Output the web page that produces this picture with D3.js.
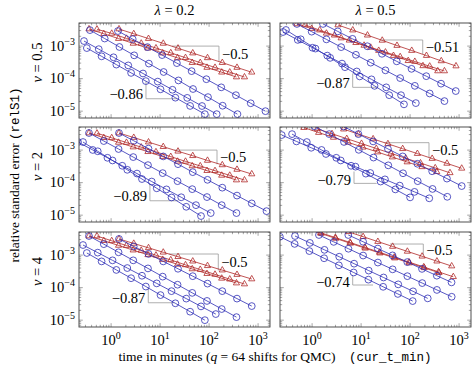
<!DOCTYPE html>
<html><head><meta charset="utf-8">
<script src="https://cdn.jsdelivr.net/npm/d3@7/dist/d3.min.js"></script>
<style>body{margin:0;background:#fff}</style>
</head><body>
<svg id="c" width="475" height="372"></svg>
<script>
// ---------------- data ----------------
const colTitles = ["0.2", "0.5"];          // lambda
const rowTitles = ["0.5", "2", "4"];       // nu
const xTickVals = [1, 10, 100, 1000];
const xTickExp  = ["0", "1", "2", "3"];
const yTickVals = [1e-5, 1e-4, 1e-3];
const yTickExp  = ["\u22125", "\u22124", "\u22123"];

// panel (row 1, col 1): nu=0.5, lambda=0.2
const p11_mc1 = [[1.45,3.35e-3],[2.9,2.39e-3],[5.8,1.70e-3],[11.6,1.21e-3],[23.2,8.6e-4],[46.4,6.1e-4],[92.8,4.35e-4],[186,3.1e-4],[371,2.2e-4],[742,1.57e-4]];
const p11_mc2 = [[0.354,3.35e-3],[0.71,2.39e-3],[1.42,1.70e-3],[2.83,1.21e-3],[5.66,8.6e-4],[11.3,6.1e-4],[22.7,4.35e-4],[45.3,3.1e-4],[90.6,2.2e-4],[181,1.57e-4],[362,1.12e-4]];
const p11_mc3 = [[0.515,3.3e-3],[1.03,2.45e-3],[2.06,1.72e-3],[4.12,1.22e-3],[8.24,8.7e-4],[16.5,6.2e-4],[33,4.4e-4],[66,3.1e-4],[132,2.2e-4],[264,1.58e-4],[527,1.12e-4]];
const p11_qmc1 = [[1.38,2.9e-3],[2.76,1.64e-3],[5.52,9.3e-4],[11,5.3e-4],[22,3.0e-4],[44,1.7e-4],[88,9.6e-5],[177,5.4e-5],[353,3.1e-5],[707,1.75e-5],[1413,1.0e-5]];
const p11_qmc2 = [[0.37,3.1e-3],[0.74,1.71e-3],[1.48,9.4e-4],[2.96,5.2e-4],[5.9,2.9e-4],[11.8,1.6e-4],[23.7,8.8e-5],[47,4.8e-5],[95,2.7e-5],[189,1.47e-5],[379,8.1e-6]];
const p11_qmc3 = [[0.28,1.43e-3],[0.56,8.05e-4],[1.12,4.53e-4],[2.24,2.55e-4],[4.48,1.44e-4],[8.96,8.1e-5],[17.9,4.55e-5],[35.8,2.56e-5],[71.7,1.44e-5],[143,8.1e-6]];
const p11_qmc4 = [[0.32,8.7e-4],[0.64,4.85e-4],[1.28,2.7e-4],[2.56,1.5e-4],[5.12,8.4e-5],[10.2,4.7e-5],[20.5,2.6e-5],[41,1.45e-5],[82,8.1e-6]];
const p11_slopeMC  = [17.5, 159, 1.0e-3, -0.5];   // x1, x2, y at x1, slope
const p11_slopeQMC = [5.15, 22, 8.4e-5, -0.86];

// panel (row 1, col 2): nu=0.5, lambda=0.5
const p12_mc1 = [[3.38,4.45e-3],[6.76,3.1e-3],[13.5,2.16e-3],[27,1.5e-3],[54,1.04e-3],[108,7.3e-4],[216,5.1e-4],[433,3.5e-4],[865,2.44e-4]];
const p12_mc2 = [[0.49,4.8e-3],[0.98,3.44e-3],[1.96,2.47e-3],[3.92,1.77e-3],[7.84,1.27e-3],[15.7,9.1e-4],[31.4,6.5e-4],[62.7,4.7e-4],[125,3.35e-4],[251,2.4e-4],[502,1.72e-4]];
const p12_mc3 = [[0.716,4.45e-3],[1.43,3.1e-3],[2.86,2.16e-3],[5.73,1.51e-3],[11.5,1.05e-3],[22.9,7.3e-4],[45.8,5.1e-4],[91.6,3.55e-4],[183,2.47e-4],[367,1.72e-4]];
const p12_qmc1 = [[1.67,4.8e-3],[3.34,2.83e-3],[6.68,1.67e-3],[13.4,9.9e-4],[26.7,5.8e-4],[53.4,3.4e-4],[107,2.0e-4],[214,1.19e-4],[428,7.0e-5],[855,4.15e-5]];
const p12_qmc2 = [[0.49,4.8e-3],[0.98,2.78e-3],[1.96,1.61e-3],[3.92,9.3e-4],[7.84,5.4e-4],[15.7,3.1e-4],[31.4,1.8e-4],[62.7,1.04e-4],[125,6.0e-5],[251,3.5e-5],[502,2.04e-5]];
const p12_qmc3 = [[0.255,2.71e-3],[0.51,1.55e-3],[1.02,8.9e-4],[2.04,5.1e-4],[4.08,2.9e-4],[8.16,1.66e-4],[16.3,9.5e-5],[32.6,5.4e-5],[65.3,3.1e-5],[131,1.77e-5]];
const p12_qmc4 = [[0.293,3.13e-3],[0.586,1.62e-3],[1.17,8.4e-4],[2.34,4.35e-4],[4.69,2.25e-4],[9.38,1.17e-4],[18.8,6.0e-5],[37.5,3.1e-5],[75,1.62e-5]];
const p12_slopeMC  = [26, 181, 1.54e-3, -0.51];
const p12_slopeQMC = [6.74, 20.8, 1.44e-4, -0.87];

// panel (row 2, col 1): nu=2, lambda=0.2
const p21_mc1 = [[1.45,3.35e-3],[2.9,2.43e-3],[5.8,1.76e-3],[11.6,1.27e-3],[23.2,9.2e-4],[46.4,6.7e-4],[92.8,4.8e-4],[186,3.5e-4],[371,2.54e-4],[742,1.84e-4]];
const p21_mc2 = [[0.354,3.35e-3],[0.71,2.4e-3],[1.42,1.72e-3],[2.83,1.24e-3],[5.66,8.9e-4],[11.3,6.3e-4],[22.7,4.5e-4],[45.3,3.25e-4],[90.6,2.33e-4],[181,1.67e-4],[362,1.2e-4]];
const p21_mc3 = [[0.515,3.3e-3],[1.03,2.38e-3],[2.06,1.71e-3],[4.12,1.23e-3],[8.24,8.8e-4],[16.5,6.3e-4],[33,4.5e-4],[66,3.25e-4],[132,2.32e-4],[264,1.67e-4],[527,1.2e-4]];
const p21_qmc1 = [[1.45,3.35e-3],[2.9,1.93e-3],[5.8,1.11e-3],[11.6,6.4e-4],[23.2,3.7e-4],[46.4,2.1e-4],[92.8,1.22e-4],[186,7.0e-5],[371,4.0e-5],[742,2.3e-5],[1485,1.33e-5]];
const p21_qmc2 = [[0.354,3.35e-3],[0.71,1.9e-3],[1.42,1.08e-3],[2.83,6.1e-4],[5.66,3.45e-4],[11.3,1.96e-4],[22.7,1.11e-4],[45.3,6.3e-5],[90.6,3.6e-5],[181,2.03e-5],[362,1.16e-5]];
const p21_qmc3 = [[0.211,1.77e-3],[0.422,1.01e-3],[0.844,5.8e-4],[1.69,3.3e-4],[3.38,1.9e-4],[6.75,1.08e-4],[13.5,6.2e-5],[27,3.55e-5],[54,2.03e-5],[108,1.16e-5]];
const p21_qmc4 = [[0.267,1.77e-3],[0.534,9.2e-4],[1.07,4.8e-4],[2.14,2.48e-4],[4.27,1.29e-4],[8.54,6.7e-5],[17.1,3.5e-5],[34.2,1.81e-5],[68.4,9.4e-6]];
const p21_slopeMC  = [19.4, 145, 1.0e-3, -0.5];
const p21_slopeQMC = [6.2, 23.3, 9.0e-5, -0.89];

// panel (row 2, col 2): nu=2, lambda=0.5
const p22_mc1 = [[4.41,4.4e-3],[8.82,3.1e-3],[17.6,2.2e-3],[35.3,1.56e-3],[70.6,1.1e-3],[141,7.8e-4],[282,5.5e-4],[565,3.9e-4],[1130,2.75e-4]];
const p22_mc2 = [[1.27,4.5e-3],[2.55,3.18e-3],[5.1,2.25e-3],[10.2,1.59e-3],[20.4,1.12e-3],[40.8,7.95e-4],[81.5,5.6e-4],[163,4.0e-4],[326,2.83e-4],[652,2.0e-4]];
const p22_mc3 = [[0.68,4.9e-3],[1.36,3.46e-3],[2.73,2.45e-3],[5.45,1.73e-3],[10.9,1.22e-3],[21.8,8.7e-4],[43.6,6.1e-4],[87.3,4.3e-4],[175,3.06e-4],[349,2.16e-4]];
const p22_qmc1 = [[4.41,5.3e-3],[8.82,3.1e-3],[17.6,1.85e-3],[35.3,1.09e-3],[70.6,6.4e-4],[141,3.8e-4],[282,2.24e-4],[565,1.33e-4],[1130,7.85e-5]];
const p22_qmc2 = [[1.12,5.4e-3],[2.24,3.1e-3],[4.48,1.78e-3],[8.97,1.02e-3],[17.9,5.9e-4],[35.9,3.4e-4],[71.8,1.94e-4],[143,1.11e-4],[287,6.4e-5],[574,3.67e-5]];
const p22_qmc3 = [[0.24,2.9e-3],[0.48,1.85e-3],[0.96,1.18e-3],[1.92,7.6e-4],[3.84,4.8e-4],[7.68,3.1e-4],[15.4,1.98e-4],[30.7,1.26e-4],[61.4,8.1e-5],[123,5.2e-5],[246,3.3e-5]];
const p22_qmc4 = [[0.39,3.1e-3],[0.78,1.77e-3],[1.56,1.01e-3],[3.12,5.8e-4],[6.24,3.3e-4],[12.5,1.89e-4],[25,1.08e-4],[50,6.2e-5],[100,3.52e-5]];
const p22_slopeMC  = [29.9, 243, 1.69e-3, -0.5];
const p22_slopeQMC = [7.17, 20.8, 2.2e-4, -0.79];

// panel (row 3, col 1): nu=4, lambda=0.2
const p31_mc1 = [[1.45,3.13e-3],[2.9,2.28e-3],[5.8,1.67e-3],[11.6,1.22e-3],[23.2,8.9e-4],[46.4,6.5e-4],[92.8,4.7e-4],[186,3.45e-4],[371,2.52e-4],[742,1.84e-4]];
const p31_mc2 = [[0.354,3.86e-3],[0.71,2.77e-3],[1.42,1.98e-3],[2.83,1.42e-3],[5.66,1.02e-3],[11.3,7.3e-4],[22.7,5.2e-4],[45.3,3.75e-4],[90.6,2.69e-4],[181,1.93e-4],[362,1.38e-4]];
const p31_mc3 = [[0.515,3.86e-3],[1.03,2.75e-3],[2.06,1.96e-3],[4.12,1.39e-3],[8.24,9.9e-4],[16.5,7.1e-4],[33,5.0e-4],[66,3.6e-4],[132,2.55e-4],[264,1.82e-4],[527,1.29e-4]];
const p31_qmc1 = [[1.45,3.13e-3],[2.9,1.85e-3],[5.8,1.09e-3],[11.6,6.4e-4],[23.2,3.8e-4],[46.4,2.25e-4],[92.8,1.33e-4],[186,7.8e-5],[371,4.6e-5],[742,2.71e-5]];
const p31_qmc2 = [[0.354,3.86e-3],[0.71,2.17e-3],[1.42,1.22e-3],[2.83,6.9e-4],[5.66,3.9e-4],[11.3,2.18e-4],[22.7,1.23e-4],[45.3,6.9e-5],[90.6,3.9e-5],[181,2.2e-5],[362,1.24e-5]];
const p31_qmc3 = [[0.267,2.04e-3],[0.534,1.19e-3],[1.07,6.9e-4],[2.14,4.0e-4],[4.27,2.32e-4],[8.54,1.35e-4],[17.1,7.8e-5],[34.2,4.6e-5],[68.4,2.65e-5],[137,1.54e-5]];
const p31_qmc4 = [[0.32,1.16e-3],[0.64,6.4e-4],[1.28,3.5e-4],[2.56,1.95e-4],[5.12,1.08e-4],[10.2,5.9e-5],[20.5,3.3e-5],[41,1.82e-5],[82,1.0e-5]];
const p31_slopeMC  = [15.1, 154, 1.08e-3, -0.5];
const p31_slopeQMC = [5.74, 19.2, 9.8e-5, -0.87];

// panel (row 3, col 2): nu=4, lambda=0.5
const p32_mc1 = [[5.5,5.2e-3],[11,3.68e-3],[22,2.6e-3],[44,1.84e-3],[88,1.3e-3],[176,9.2e-4],[353,6.5e-4],[706,4.6e-4]];
const p32_mc2 = [[1.49,4.9e-3],[2.98,3.45e-3],[5.95,2.44e-3],[11.9,1.73e-3],[23.8,1.22e-3],[47.6,8.6e-4],[95,6.1e-4],[190,4.32e-4],[381,3.05e-4],[762,2.16e-4]];
const p32_mc3 = [[0.76,6.5e-3],[1.52,4.6e-3],[3.04,3.25e-3],[6.08,2.3e-3],[12.2,1.62e-3],[24.3,1.15e-3],[48.6,8.1e-4],[97,5.7e-4],[194,4.06e-4],[389,2.87e-4]];
const p32_qmc1 = [[0.22,3.67e-3],[0.44,2.21e-3],[0.88,1.33e-3],[1.76,8.0e-4],[3.52,4.85e-4],[7.04,2.92e-4],[14.1,1.76e-4],[28.2,1.06e-4],[56.3,6.4e-5],[113,3.86e-5]];
const p32_qmc2 = [[0.448,3.86e-3],[0.9,2.37e-3],[1.79,1.45e-3],[3.58,8.9e-4],[7.2,5.45e-4],[14.3,3.34e-4],[28.7,2.05e-4],[57.3,1.26e-4],[115,7.7e-5],[229,4.68e-5]];
const p32_qmc3 = [[1.38,4.15e-3],[2.76,2.55e-3],[5.52,1.57e-3],[11,9.7e-4],[22,5.9e-4],[44,3.65e-4],[88,2.25e-4],[177,1.38e-4],[353,8.5e-5],[706,5.24e-5]];
const p32_qmc4 = [[5.48,4.15e-3],[11,2.57e-3],[21.9,1.59e-3],[43.8,9.8e-4],[87.7,6.1e-4],[175,3.77e-4],[351,2.33e-4],[701,1.45e-4]];
const p32_slopeMC  = [39, 186, 2.19e-3, -0.5];
const p32_slopeQMC = [6.74, 17.5, 2.44e-4, -0.74];

// ---------------- layout ----------------
const panels = [
  {r:0,c:0, mc:[p11_mc1,p11_mc2,p11_mc3], qmc:[p11_qmc1,p11_qmc2,p11_qmc3,p11_qmc4], sm:p11_slopeMC, sq:p11_slopeQMC},
  {r:0,c:1, mc:[p12_mc1,p12_mc2,p12_mc3], qmc:[p12_qmc1,p12_qmc2,p12_qmc3,p12_qmc4], sm:p12_slopeMC, sq:p12_slopeQMC},
  {r:1,c:0, mc:[p21_mc1,p21_mc2,p21_mc3], qmc:[p21_qmc1,p21_qmc2,p21_qmc3,p21_qmc4], sm:p21_slopeMC, sq:p21_slopeQMC},
  {r:1,c:1, mc:[p22_mc1,p22_mc2,p22_mc3], qmc:[p22_qmc1,p22_qmc2,p22_qmc3,p22_qmc4], sm:p22_slopeMC, sq:p22_slopeQMC},
  {r:2,c:0, mc:[p31_mc1,p31_mc2,p31_mc3], qmc:[p31_qmc1,p31_qmc2,p31_qmc3,p31_qmc4], sm:p31_slopeMC, sq:p31_slopeQMC},
  {r:2,c:1, mc:[p32_mc1,p32_mc2,p32_mc3], qmc:[p32_qmc1,p32_qmc2,p32_qmc3,p32_qmc4], sm:p32_slopeMC, sq:p32_slopeQMC}
];
const W = 191, H = 95;
const colX = [79, 280], rowY = [23, 127, 232];
const xDomain = [Math.pow(10,-0.655), Math.pow(10,3.243)];
const yDomain = [Math.pow(10,-5.21), Math.pow(10,-2.29)];
const RED = "#b02a2a", BLUE = "#2d2db5", GRAY = "#9a9a9a", AX = "#3c3c3c", TICK = "#6a6a6a";
const SERIF = "'Liberation Serif','Times New Roman',serif";
const MONO = "'Liberation Mono','DejaVu Sans Mono',monospace";
const FS = 14.5, SUP = 10, LBL = 13.5, MONOFS = 12.5;

const svg = d3.select("#c");
const defs = svg.append("defs");

function minorVals(dom){
  const out=[]; 
  for(let e=-7;e<=4;e++) for(let k=1;k<=9;k++){const v=k*Math.pow(10,e); if(v>=dom[0]&&v<=dom[1]) out.push({v, major:k===1});}
  return out;
}
const fmtSlope = s => "\u2212" + String(Math.abs(s));

panels.forEach((p,i)=>{
  const x0 = colX[p.c], y0 = rowY[p.r];
  const x = d3.scaleLog().domain(xDomain).range([x0, x0+W]);
  const y = d3.scaleLog().domain(yDomain).range([y0+H, y0]);
  const g = svg.append("g");
  defs.append("clipPath").attr("id","clip"+i).append("rect").attr("x",x0).attr("y",y0).attr("width",W).attr("height",H);

  // ticks (inside, all four sides)
  const tk = g.append("g").attr("stroke",TICK).attr("stroke-width",0.6);
  minorVals(xDomain).forEach(d=>{
    const L = d.major?3.8:2.2;
    tk.append("line").attr("x1",x(d.v)).attr("x2",x(d.v)).attr("y1",y0+H).attr("y2",y0+H-L);
    tk.append("line").attr("x1",x(d.v)).attr("x2",x(d.v)).attr("y1",y0).attr("y2",y0+L);
  });
  minorVals(yDomain).forEach(d=>{
    const L = d.major?3.8:2.2;
    tk.append("line").attr("y1",y(d.v)).attr("y2",y(d.v)).attr("x1",x0).attr("x2",x0+L);
    tk.append("line").attr("y1",y(d.v)).attr("y2",y(d.v)).attr("x1",x0+W).attr("x2",x0+W-L);
  });

  // slope triangles
  const sg = g.append("g").attr("fill","none").attr("stroke",GRAY).attr("stroke-width",0.8);
  {
    const [a,b,yy,s] = p.sm; const y2 = yy*Math.pow(b/a,s);
    sg.append("path").attr("d",`M${x(a)},${y(yy)}H${x(b)}V${y(y2)}`);
    g.append("text").attr("x",x(b)+3).attr("y",(y(yy)+y(y2))/2).attr("dy","0.35em")
      .attr("font-family",SERIF).attr("font-size",FS).text(fmtSlope(s));
  }
  {
    const [a,b,yy,s] = p.sq; const y2 = yy*Math.pow(b/a,s);
    sg.append("path").attr("d",`M${x(a)},${y(yy)}V${y(y2)}H${x(b)}`);
    g.append("text").attr("x",x(a)-3).attr("y",y(yy)+0.7*(y(y2)-y(yy))).attr("dy","0.35em").attr("text-anchor","end")
      .attr("font-family",SERIF).attr("font-size",FS).text(fmtSlope(s));
  }

  // series
  const dg = g.append("g").attr("clip-path",`url(#clip${i})`);
  const line = d3.line().x(d=>x(d[0])).y(d=>y(d[1]));
  const tri = "M0,-3.6L3.1,1.8L-3.1,1.8Z";
  p.mc.forEach(s=>{
    dg.append("path").attr("d",line(s)).attr("fill","none").attr("stroke",RED).attr("stroke-width",0.8);
    dg.selectAll(null).data(s).enter().append("path").attr("d",tri)
      .attr("transform",d=>`translate(${x(d[0])},${y(d[1])})`)
      .attr("fill","none").attr("stroke",RED).attr("stroke-width",0.8);
  });
  p.qmc.forEach(s=>{
    dg.append("path").attr("d",line(s)).attr("fill","none").attr("stroke",BLUE).attr("stroke-width",0.8);
    dg.selectAll(null).data(s).enter().append("circle").attr("cx",d=>x(d[0])).attr("cy",d=>y(d[1])).attr("r",3.4)
      .attr("fill","none").attr("stroke",BLUE).attr("stroke-width",0.8);
  });

  // frame
  g.append("rect").attr("x",x0).attr("y",y0).attr("width",W).attr("height",H)
    .attr("fill","none").attr("stroke",AX).attr("stroke-width",0.9);

  // tick labels
  if(p.r===2){
    xTickVals.forEach((v,k)=>{
      const t = g.append("text").attr("x",x(v)).attr("y",y0+H+18).attr("text-anchor","middle")
        .attr("font-family",SERIF).attr("font-size",FS);
      t.append("tspan").text("10");
      t.append("tspan").attr("dy",-6).attr("font-size",SUP).text(xTickExp[k]);
    });
  }
  if(p.c===0){
    yTickVals.forEach((v,k)=>{
      const t = g.append("text").attr("x",x0-4).attr("y",y(v)+4.5).attr("text-anchor","end")
        .attr("font-family",SERIF).attr("font-size",FS);
      t.append("tspan").text("10");
      t.append("tspan").attr("dy",-6).attr("font-size",SUP).text(yTickExp[k]);
    });
    const rt = svg.append("text").attr("transform",`translate(42,${y0+H/2-8}) rotate(-90)`)
      .attr("text-anchor","middle").attr("font-family",SERIF).attr("font-size",FS);
    rt.append("tspan").attr("font-style","italic").text("\u03bd");
    rt.append("tspan").text(" = " + rowTitles[p.r]);
  }
  if(p.r===0){
    const ct = svg.append("text").attr("x",x0+W/2).attr("y",15).attr("text-anchor","middle")
      .attr("font-family",SERIF).attr("font-size",FS);
    ct.append("tspan").attr("font-style","italic").text("\u03bb");
    ct.append("tspan").text(" = " + colTitles[p.c]);
  }
});

// global labels
const yl = svg.append("text").attr("transform",`translate(19,${(rowY[0]+rowY[2]+H)/2}) rotate(-90)`)
  .attr("text-anchor","middle").attr("font-family",SERIF).attr("font-size",LBL);
yl.append("tspan").text("relative standard error ");
yl.append("tspan").attr("font-family",MONO).attr("font-size",MONOFS).text("(relS1)");

const xl = svg.append("text").attr("x",(colX[0]+colX[1]+W)/2).attr("y",361).attr("text-anchor","middle")
  .attr("font-family",SERIF).attr("font-size",LBL);
xl.append("tspan").text("time in minutes (");
xl.append("tspan").attr("font-style","italic").text("q");
xl.append("tspan").text(" = 64 shifts for QMC)\u2003");
xl.append("tspan").attr("font-family",MONO).attr("font-size",MONOFS).text("(cur_t_min)");
</script>
</body></html>
